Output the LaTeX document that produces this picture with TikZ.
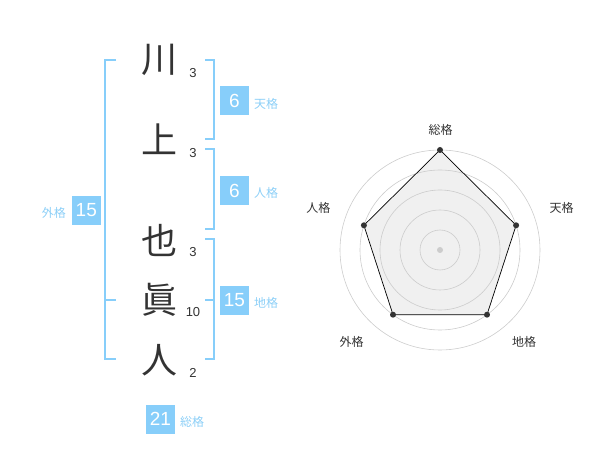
\documentclass[tikz,border=0pt]{standalone}
\usepackage{fontspec}
\setmainfont{Liberation Sans}
\newfontfamily\cjk{Noto Sans CJK JP}
\definecolor{txt}{HTML}{333333}
\definecolor{sky}{HTML}{87CEFA}
\definecolor{skytxt}{HTML}{8CCFF7}
\definecolor{ring}{HTML}{CCCCCC}
\definecolor{pfill}{HTML}{F0F0F0}
\begin{document}
\begin{tikzpicture}[x=1pt,y=-1pt,
 kanji/.style={font=\cjk\fontsize{36}{36}\selectfont, text=txt, inner sep=0},
 strokes/.style={font=\fontsize{13}{13}\selectfont, text=txt, inner sep=0},
 valbox/.style={fill=sky, text=white, minimum width=29pt, minimum height=29pt, inner sep=0, font=\fontsize{19}{19}\selectfont},
 lbl/.style={font=\cjk\fontsize{12}{12}\selectfont, text=skytxt, inner sep=0},
 brk/.style={draw=sky, line width=2pt},
 axlbl/.style={font=\cjk\fontsize{12}{12}\selectfont, text=txt, inner sep=0},
 ringc/.style={draw=ring, line width=0.6pt},
 dot/.style={circle, fill=txt, inner sep=0, minimum size=6pt}
]
\useasboundingbox (0,0) rectangle (600,470);
% characters
\node[kanji] (k1) at (159,60) {川};
\node[kanji] (k2) at (159,139) {上};
\node[kanji] (k3) at (159,240) {也};
\node[kanji] (k4) at (159,300) {眞};
\node[kanji] (k5) at (159,360) {人};
% stroke counts
\node[strokes] (s1) at (193,73) {3};
\node[strokes] (s2) at (193,153) {3};
\node[strokes] (s3) at (193,252) {3};
\node[strokes] (s4) at (193,312) {10};
\node[strokes] (s5) at (193,373) {2};
% brackets
\draw[brk] (205,60) -| (214,139) -- (205,139);
\draw[brk] (205,149) -| (214,229) -- (205,229);
\draw[brk] (205,239) -| (214,359) -- (205,359);
\draw[brk] (214,300) -- (205,300);
\draw[brk] (116,60) -| (105,359) -- (116,359);
\draw[brk] (105,300) -- (116,300);
% value boxes
\node[valbox] (ten) at (234.5,100.5) {6};
\node[lbl, anchor=west] (tenl) at (254,104) {天格};
\node[valbox] (jin) at (234.5,190.5) {6};
\node[lbl, anchor=west] (jinl) at (254,193) {人格};
\node[valbox] (chi) at (234.5,300.5) {15};
\node[lbl, anchor=west] (chil) at (254,303) {地格};
\node[valbox] (gai) at (86.3,210.5) {15};
\node[lbl, anchor=east] (gail) at (66,213) {外格};
\node[valbox] (sou) at (160.5,419) {21};
\node[lbl, anchor=west] (soul) at (180,422) {総格};
% radar chart
\coordinate (c) at (440,250);
\coordinate (p1) at (440,150);
\coordinate (p2) at (516.1,225.3);
\coordinate (p3) at (487.0,314.7);
\coordinate (p4) at (393.0,314.7);
\coordinate (p5) at (363.9,225.3);
\fill[pfill] (p1) -- (p2) -- (p3) -- (p4) -- (p5) -- cycle;
\foreach \r in {20,40,60,80,100} \draw[ringc] (c) circle[radius=\r];
\draw[black, line width=0.7pt] (p1) -- (p2) -- (p3) -- (p4) -- (p5) -- cycle;
\foreach \p in {p1,p2,p3,p4,p5} \node[dot] at (\p) {};
\fill[ring] (c) circle[radius=3];
\node[axlbl] (a1) at (440.7,130) {総格};
\node[axlbl] (a2) at (561.7,208) {天格};
\node[axlbl] (a3) at (524,341.7) {地格};
\node[axlbl] (a4) at (351.7,341.7) {外格};
\node[axlbl] (a5) at (318.3,208) {人格};
\end{tikzpicture}
\end{document}
